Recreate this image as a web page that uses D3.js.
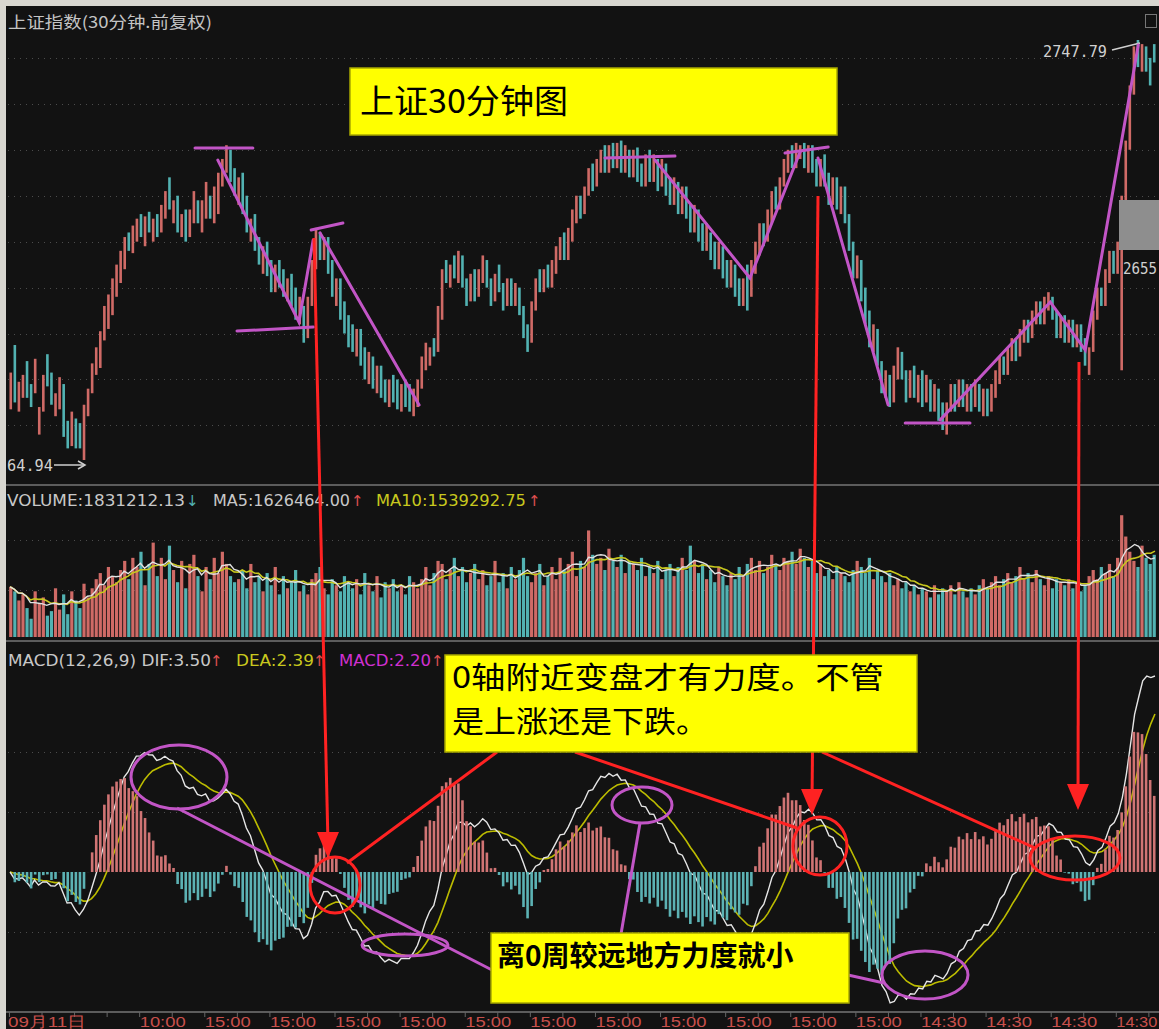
<!DOCTYPE html>
<html><head><meta charset="utf-8">
<script src="https://cdn.jsdelivr.net/npm/d3@7"></script>
<style>html,body{margin:0;padding:0;background:#121212;overflow:hidden}</style>
</head><body><svg id="c" width="1159" height="1029"></svg>
<script>
// ---------------- DATA ----------------
const opens = [
2587,2615,2586,2592,2608,2598,2594,2576,2586,2611,
2603,2584,2587,2598,2582,2571,2583,2581,2564.94,2584,
2594,2602,2605,2617,2622,2628,2636,2642,2648,2664,
2655,2660,2672,2658,2673,2660,2672,2664,2670,2688,
2668,2680,2662,2674,2662,2668,2678,2664,2670,2680,
2668,2672,2684,2690,2700,2692,2676,2690,2680,2660,
2672,2662,2646,2660,2652,2638,2652,2648,2634,2646,
2640,2624,2632,2618,2632,2648,2664,2652,2662,2652,
2632,2644,2634,2628,2624,2610,2622,2614,2598,2610,
2594,2606,2600,2588,2602,2600,2586,2600,2598,2584,
2588,2596,2604,2606,2618,2612,2626,2652,2640,2654,
2642,2654,2644,2634,2648,2636,2642,2652,2644,2634,
2650,2642,2632,2644,2632,2640,2632,2624,2616,2630,
2648,2638,2650,2640,2646,2652,2664,2652,2660,2668,
2680,2672,2680,2694,2684,2690,2702,2690,2703,2692,
2704,2690,2700,2688,2701,2694,2684,2700,2686,2696,
2684,2694,2688,2676,2686,2672,2684,2676,2664,2674,
2668,2656,2664,2660,2648,2658,2652,2640,2650,2644,
2632,2650,2636,2646,2654,2668,2660,2668,2684,2674,
2684,2690,2702,2692,2696,2703,2690,2702,2696,2684,
2698,2690,2676,2688,2672,2684,2672,2660,2644,2652,
2640,2630,2612,2622,2608,2592,2602,2590,2600,2612,
2604,2592,2606,2590,2604,2590,2600,2586,2596,2590,
2576,2586,2598,2588,2600,2586,2598,2588,2598,2584,
2596,2586,2592,2598,2610,2602,2608,2618,2610,2616,
2626,2618,2624,2634,2624,2630,2636,2630,2618,2628,
2616,2626,2614,2624,2618,2602,2612,2626,2640,2632,
2642,2656,2646,2604,2676,2700,2724,2747.79,2734,2745,
2740,2746];
const closes = [
2603,2590,2599,2602,2592,2588,2609,2588,2602,2597,
2589,2594,2601,2575,2570,2586,2570,2570,2589,2596,
2607,2614,2621,2632,2637,2644,2650,2656,2662,2656,
2667,2670,2662,2671,2664,2670,2662,2676,2682,2674,
2678,2664,2672,2660,2674,2682,2668,2678,2686,2670,
2684,2690,2696,2702,2686,2680,2688,2672,2664,2670,
2656,2650,2658,2645,2638,2650,2640,2636,2644,2632,
2626,2636,2616,2636,2652,2666,2652,2662,2646,2636,
2644,2626,2620,2614,2612,2622,2606,2600,2612,2596,
2606,2592,2590,2600,2590,2587,2598,2588,2586,2596,
2600,2610,2616,2614,2610,2632,2648,2642,2650,2644,
2656,2640,2632,2646,2634,2648,2654,2640,2632,2646,
2638,2630,2644,2632,2642,2628,2618,2612,2634,2644,
2638,2648,2640,2652,2658,2662,2652,2666,2674,2680,
2670,2684,2692,2682,2696,2700,2690,2702,2692,2703,
2690,2702,2688,2700,2686,2684,2698,2686,2698,2682,
2696,2680,2676,2688,2672,2684,2670,2664,2676,2660,
2656,2668,2652,2648,2660,2644,2640,2652,2636,2632,
2644,2630,2652,2660,2668,2658,2674,2682,2674,2688,
2696,2700,2692,2703,2702,2692,2702,2690,2684,2696,
2684,2676,2688,2674,2684,2668,2656,2644,2654,2634,
2624,2614,2624,2606,2594,2604,2588,2606,2614,2600,
2590,2604,2592,2602,2588,2602,2586,2598,2582,2578,
2590,2598,2586,2600,2588,2598,2586,2600,2586,2596,
2584,2598,2604,2610,2602,2614,2618,2608,2622,2626,
2616,2630,2634,2624,2636,2638,2626,2618,2628,2616,
2626,2614,2624,2612,2606,2614,2630,2640,2632,2648,
2656,2646,2660,2680,2704,2728,2745,2736,2746,2734,
2728,2738];
const volumes = [
165,150,120,140,95,60,150,110,130,70,
85,160,90,140,75,150,120,95,175,130,
160,190,210,170,230,200,180,220,250,190,
260,230,280,170,240,310,200,260,190,300,
220,180,250,160,240,270,200,150,230,190,
260,210,280,240,200,180,190,220,160,240,
180,200,150,210,170,230,140,200,160,180,
220,150,170,140,190,210,230,160,140,190,
170,150,200,180,160,190,140,210,170,150,
200,130,180,160,190,150,170,140,200,180,
160,190,230,170,210,250,240,190,220,260,
200,230,180,210,240,190,220,170,200,250,
180,210,160,230,190,220,260,200,180,210,
240,170,200,230,190,260,220,240,280,200,
250,230,350,270,240,260,220,290,250,230,
270,210,250,240,220,260,200,230,210,250,
190,220,240,200,230,260,220,300,250,210,
240,190,220,180,230,200,170,210,190,230,
200,240,260,220,250,210,230,270,240,220,
260,250,280,240,290,260,230,250,210,240,
200,220,190,230,210,200,180,220,250,230,
210,260,190,220,200,180,210,170,190,160,
180,150,170,140,160,150,130,170,140,160,
150,170,140,180,150,130,160,140,170,190,
160,180,200,170,190,210,180,200,230,190,
210,180,220,190,170,200,160,190,180,170,
190,160,180,150,170,200,220,190,230,210,
240,200,260,400,330,280,250,230,300,260,
240,270];
const tickBars = [0,32,48,64,80,96,112,128,144,160,176,192,208,224,240,256,272];
const tickLabels = ["09月11日","10:00","15:00","15:00","15:00","15:00","15:00","15:00","15:00","15:00","15:00","15:00","15:00","14:30","14:30","14:30","14:30"];
const priceGrid = [2580,2600,2620,2640,2660,2680,2700,2720,2740];
const priceHigh = 2747.79, priceLow = 2564.94, priceTag = "2655";
const volText = ["VOLUME:1831212.13","MA5:1626464.00","MA10:1539292.75"];
const macdText = ["MACD(12,26,9) DIF:3.50","DEA:2.39","MACD:2.20"];
const noteLines = ["0轴附近变盘才有力度。不管","是上涨还是下跌。"];
// hand-drawn trend lines on the price panel: [barIndex, price]
const trendLines = [
 [[45.4,2700.8],[59.6,2700.8]],
 [[51.0,2695.5],[70.9,2625.0],[74.4,2660.7]],
 [[76.1,2663.8],[100.4,2588.9]],
 [[55.7,2621.1],[74.4,2622.8]],
 [[73.9,2665.1],[81.7,2668.1]],
 [[146.0,2696.4],[163.2,2697.3]],
 [[158.3,2695.5],[181.6,2644.2],[193.9,2699.0]],
 [[190.2,2698.6],[200.8,2701.2]],
 [[198.3,2696.4],[215.5,2588.9]],
 [[219.7,2581.0],[235.6,2581.0]],
 [[228.3,2582.4],[255.3,2633.7],[263.9,2612.8],[276.9,2745.6]]
];

// ---------------- DRAW ----------------
const W=1159,H=1029;
const svg=d3.select('#c');
const UP='#cf6a66', DN='#52b2b2', MAG='#c255c6', RED='#ff2222', YEL='#ffff00';
svg.append('rect').attr('width',W).attr('height',H).attr('fill','#121212');

const N=closes.length;
const x=d3.scaleBand().domain(d3.range(N)).range([8,1157]).padding(0.36);
const xs=d3.scaleLinear().domain([-0.5,N-0.5]).range([8,1157]);
const up=i=>closes[i]>=opens[i];

// price panel
const yP=d3.scaleLinear().domain([priceLow,priceHigh]).range([460,40]);
const dotted=(g,y)=>g.append('line').attr('x1',8).attr('x2',1157).attr('y1',y).attr('y2',y)
  .attr('stroke','#4c4c4c').attr('stroke-width',1).attr('stroke-dasharray','1 5');
const gP=svg.append('g');
priceGrid.forEach(v=>dotted(gP,Math.round(yP(v))+0.5));
gP.selectAll('rect.c').data(d3.range(N)).join('rect')
  .attr('x',i=>x(i)).attr('width',x.bandwidth())
  .attr('y',i=>yP(Math.max(opens[i],closes[i])))
  .attr('height',i=>Math.max(2,Math.abs(yP(opens[i])-yP(closes[i]))))
  .attr('fill',i=>up(i)?UP:DN);

// volume panel
const yV=d3.scaleLinear().domain([0,450]).range([637,500]);
const gV=svg.append('g');
[155,320].forEach(v=>dotted(gV,Math.round(yV(v))+0.5));
gV.selectAll('rect').data(d3.range(N)).join('rect')
  .attr('x',i=>x(i)-0.3).attr('width',x.bandwidth()+0.6)
  .attr('y',i=>yV(volumes[i])).attr('height',i=>yV(0)-yV(volumes[i]))
  .attr('fill',i=>up(i)?UP:DN);
const ma=(arr,n)=>arr.map((d,i)=>d3.mean(arr.slice(Math.max(0,i-n+1),i+1)));
const ma5=ma(volumes,5), ma10=ma(volumes,10);
const lineV=d3.line().x((d,i)=>xs(i)).y(d=>yV(d));
gV.append('path').attr('d',lineV(ma10)).attr('fill','none').attr('stroke','#c8c81e').attr('stroke-width',1.6);
gV.append('path').attr('d',lineV(ma5)).attr('fill','none').attr('stroke','#e2e2e2').attr('stroke-width',1.4);

// MACD panel (computed from closes: EMA12, EMA26, DEA = EMA9 of DIF)
const ema=(arr,n)=>{const a=2/(n+1);const out=[];arr.forEach((d,i)=>out.push(i?out[i-1]+a*(d-out[i-1]):d));return out;};
const e12=ema(closes,12), e26=ema(closes,26);
const dif=e12.map((d,i)=>d-e26[i]);
const dea=[];dif.forEach((d,i)=>dea.push(i?dea[i-1]+0.2*(d-dea[i-1]):0));
const hist=dif.map((d,i)=>2*(d-dea[i]));
const yM=d3.scaleLinear().domain([0,d3.max(dif)]).range([872,676]);
const step=(yM.invert(812)-yM.invert(872));
const gM=svg.append('g');
[2*step,step,-step].forEach(v=>dotted(gM,Math.round(yM(v))+0.5));
const lineM=d3.line().x((d,i)=>xs(i)).y(d=>yM(d));
gM.append('path').attr('d',lineM(dea)).attr('fill','none').attr('stroke','#bcbc00').attr('stroke-width',1.6);
gM.append('path').attr('d',lineM(dif)).attr('fill','none').attr('stroke','#e6e6e6').attr('stroke-width',1.4);
gM.selectAll('rect').data(d3.range(N)).join('rect')
  .attr('x',i=>x(i)).attr('width',x.bandwidth())
  .attr('y',i=>Math.min(yM(0),yM(hist[i]))).attr('height',i=>Math.abs(yM(hist[i])-yM(0)))
  .attr('fill',i=>hist[i]>=0?'#d07474':'#5cb2b4');

// separators & frame
[485,641,1012].forEach(y=>svg.append('line').attr('x1',6).attr('x2',W).attr('y1',y).attr('y2',y).attr('stroke','#5c5c5c').attr('stroke-width',2));
svg.append('rect').attr('x',0).attr('y',0).attr('width',W).attr('height',6).attr('fill','#d8d6d0');
svg.append('rect').attr('x',0).attr('y',0).attr('width',6).attr('height',H).attr('fill','#d8d6d0');
svg.append('rect').attr('x',1145.5).attr('y',14.5).attr('width',11).attr('height',13).attr('fill','none').attr('stroke','#777');

// x axis
const gX=svg.append('g');
d3.range(0,N,8).forEach(i=>gX.append('line').attr('x1',x(i)).attr('x2',x(i)).attr('y1',1012).attr('y2',1017).attr('stroke','#666'));
tickBars.forEach((b,k)=>gX.append('text').attr('x',k?x(b):8).attr('y',1027)
  .attr('fill','#c8504c').attr('font-family','Liberation Sans, Arial').attr('font-size',15)
  .attr('textLength',k===0?78:(k===tickBars.length-1?41:46)).attr('lengthAdjust','spacingAndGlyphs').text(tickLabels[k]));

// texts
const T=(s,xp,y,col,size,len,fam)=>{const t=svg.append('text').attr('x',xp).attr('y',y).attr('fill',col)
  .attr('font-family',fam||'DejaVu Sans, Liberation Sans').attr('font-size',size).text(s);
  if(len) t.attr('textLength',len).attr('lengthAdjust','spacingAndGlyphs');return t;};
T('上证指数(30分钟.前复权)',8,28,'#c4c4c4',16,204,'Noto Sans CJK SC');
T(volText[0],7,506,'#c8c8c8',15,178); T('↓',186,506,DN,15);
T(volText[1],213,506,'#c8c8c8',15,137); T('↑',351,506,'#e05050',15);
T(volText[2],376,506,'#c8c81e',15,150); T('↑',528,506,'#e05050',15);
T(macdText[0],8,666,'#c8c8c8',15,203); T('↑',210,666,'#e05050',15);
T(macdText[1],236,666,'#c8c81e',15,78); T('↑',313,666,'#e05050',15);
T(macdText[2],339,666,'#d030d0',15,92); T('↑',431,666,'#e05050',15);

// price labels
svg.append('rect').attr('x',1119).attr('y',200).attr('width',40).attr('height',50).attr('fill','#8e8e8e');
T(priceTag,1123,274,'#d0d0d0',15,34,'DejaVu Sans Mono');
T(d3.format('.2f')(priceHigh),1043,57,'#d0d0d0',15,64,'DejaVu Sans Mono');
svg.append('line').attr('x1',1112).attr('y1',50).attr('x2',1140).attr('y2',43).attr('stroke','#cfcfcf').attr('stroke-width',1.5);
T(d3.format('.2f')(priceLow).slice(2),7,471,'#d0d0d0',15,46,'DejaVu Sans Mono');
svg.append('line').attr('x1',54).attr('y1',465).attr('x2',84).attr('y2',465).attr('stroke','#cfcfcf').attr('stroke-width',1.5);
svg.append('path').attr('d','M78,461L85,465L78,469').attr('fill','none').attr('stroke','#cfcfcf').attr('stroke-width',1.5);

// trend lines (magenta)
const lp=d3.line().x(d=>xs(d[0])).y(d=>yP(d[1]));
trendLines.forEach(l=>svg.append('path').attr('d',lp(l)).attr('fill','none').attr('stroke',MAG).attr('stroke-width',3).attr('stroke-linecap','round'));

// yellow boxes
const box=(x0,y0,w,h)=>svg.append('rect').attr('x',x0).attr('y',y0).attr('width',w).attr('height',h).attr('fill',YEL).attr('stroke','#a8a800').attr('stroke-width',1.5);
box(350,68,487,67);
T('上证30分钟图',360,113,'#000',33,208,'Noto Sans CJK SC');

// MACD annotations
const ell=(cx,cy,rx,ry,col)=>svg.append('ellipse').attr('cx',cx).attr('cy',cy).attr('rx',rx).attr('ry',ry).attr('fill','none').attr('stroke',col).attr('stroke-width',3);
const seg=(pts,col)=>svg.append('path').attr('d',d3.line()(pts)).attr('fill','none').attr('stroke',col).attr('stroke-width',3);
ell(179,777,48,32,MAG);
seg([[177,808],[492,970]],MAG);
ell(405,945,43,11,MAG);
ell(642,805,30,18,MAG);
seg([[640,823],[621,934]],MAG);
ell(925,975,43,24,MAG);
seg([[848,975],[884,983]],MAG);

// red arrows
const arrow=(x1,y1,x2,y2)=>{seg([[x1,y1],[x2,y2-14]],RED);
  svg.append('path').attr('d',`M${x2-11},${y2-26}L${x2+11},${y2-26}L${x2},${y2}Z`).attr('fill',RED);};
arrow(314,238,328,858);
arrow(818,196,812,815);
arrow(1079,362,1078,810);
ell(335,885,25,28,RED);
ell(820,846,27,29,RED);
ell(1075,858,45,22,RED);
seg([[347,863],[497,752]],RED);
seg([[575,752],[797,828]],RED);
seg([[822,752],[1035,848]],RED);

box(445,655,472,97);
T(noteLines[0],452,688,'#000',30,432,'Noto Sans CJK SC');
T(noteLines[1],452,732,'#000',30,256,'Noto Sans CJK SC');
box(491,933,358,70);
T('离0周较远地方力度就小',497,966,'#000',28,null,'Noto Sans CJK SC').attr('font-weight','bold');
</script></body></html>
